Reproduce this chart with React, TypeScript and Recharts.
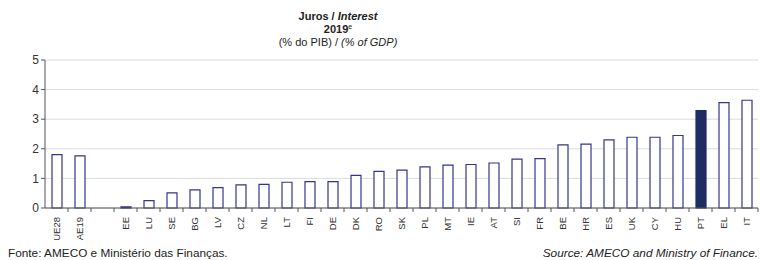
import { BarChart, Bar, Cell, XAxis, YAxis, CartesianGrid } from "recharts";

const countries = [
  "UE28", "AE19", "", "EE", "LU", "SE", "BG", "LV", "CZ", "NL", "LT", "FI", "DE",
  "DK", "RO", "SK", "PL", "MT", "IE", "AT", "SI", "FR", "BE", "HR", "ES", "UK",
  "CY", "HU", "PT", "EL", "IT",
];

const interest = [
  1.8, 1.76, null, 0.04, 0.25, 0.51, 0.61, 0.69, 0.78, 0.8, 0.87, 0.89, 0.89,
  1.1, 1.24, 1.28, 1.39, 1.45, 1.47, 1.52, 1.65, 1.67, 2.13, 2.16, 2.3, 2.39,
  2.39, 2.45, 3.29, 3.56, 3.64,
];

const yTicks = [0, 1, 2, 3, 4, 5];

const highlight = "PT";

const data = countries.map((c, i) => ({ name: c, value: interest[i] }));

const NAVY = "#1f2d63";
const OUTLINE = "#35358c";
const FONT = "'Liberation Sans', Arial, sans-serif";
const NARROW = "'Liberation Sans Narrow', 'Liberation Sans', Arial, sans-serif";

const CHART_W = 760;
const LEFT = 45;
const RIGHT = 2;
const band = (CHART_W - LEFT - RIGHT) / countries.length;

const XTick = (props: any) => {
  const { x, y, payload } = props;
  return (
    <g>
      <line x1={x + band / 2} x2={x + band / 2} y1={y - 8} y2={y - 4} stroke="#555" />
      <text
        transform={`translate(${x + 3.5},${y + 1}) rotate(-90)`}
        textAnchor="end"
        fontSize={9.5}
        fontFamily={FONT}
        fill="#333"
      >
        {payload.value}
      </text>
    </g>
  );
};

export default function App() {
  return (
    <div
      style={{
        position: "absolute",
        left: 0,
        top: 0,
        width: 760,
        height: 260,
        background: "#fff",
        fontFamily: FONT,
        color: "#222",
      }}
    >
      <div style={{ position: "absolute", left: 228, width: 220, top: 10, textAlign: "center", fontSize: 11, lineHeight: "13px" }}>
        <div style={{ fontWeight: "bold" }}>
          Juros / <i>Interest</i>
        </div>
        <div style={{ fontWeight: "bold" }}>
          2019<sup style={{ fontSize: 7, fontWeight: "normal", verticalAlign: "4px", lineHeight: 0 }}>e</sup>
        </div>
        <div>
          (% do PIB) / <i>(% of GDP)</i>
        </div>
      </div>

      <BarChart
        width={CHART_W}
        height={260}
        data={data}
        margin={{ top: 60, right: RIGHT, left: 0, bottom: 0 }}
        barCategoryGap={0}
      >
        <CartesianGrid vertical={false} stroke="#dcdcdc" />
        <XAxis
          dataKey="name"
          interval={0}
          height={52}
          tickLine={false}
          axisLine={{ stroke: "#555" }}
          tick={<XTick />}
        />
        <YAxis
          width={LEFT}
          domain={[0, 5]}
          ticks={yTicks}
          tickSize={4}
          tickLine={{ stroke: "#555" }}
          axisLine={{ stroke: "#555" }}
          tick={{ fontSize: 12, fill: "#333", fontFamily: FONT }}
        />
        <Bar dataKey="value" barSize={10} stroke={OUTLINE} strokeWidth={1.2} isAnimationActive={false}>
          {data.map((d, i) => (
            <Cell key={i} fill={d.name === highlight ? NAVY : "#fff"} stroke={d.name === highlight ? NAVY : OUTLINE} />
          ))}
        </Bar>
      </BarChart>

      <div style={{ position: "absolute", left: 8, top: 246, fontSize: 11.8, fontFamily: NARROW }}>
        Fonte: AMECO e Ministério das Finanças.
      </div>
      <div style={{ position: "absolute", right: 2, top: 246, fontSize: 11.8, fontFamily: NARROW, fontStyle: "italic" }}>
        Source: AMECO and Ministry of Finance.
      </div>
    </div>
  );
}
